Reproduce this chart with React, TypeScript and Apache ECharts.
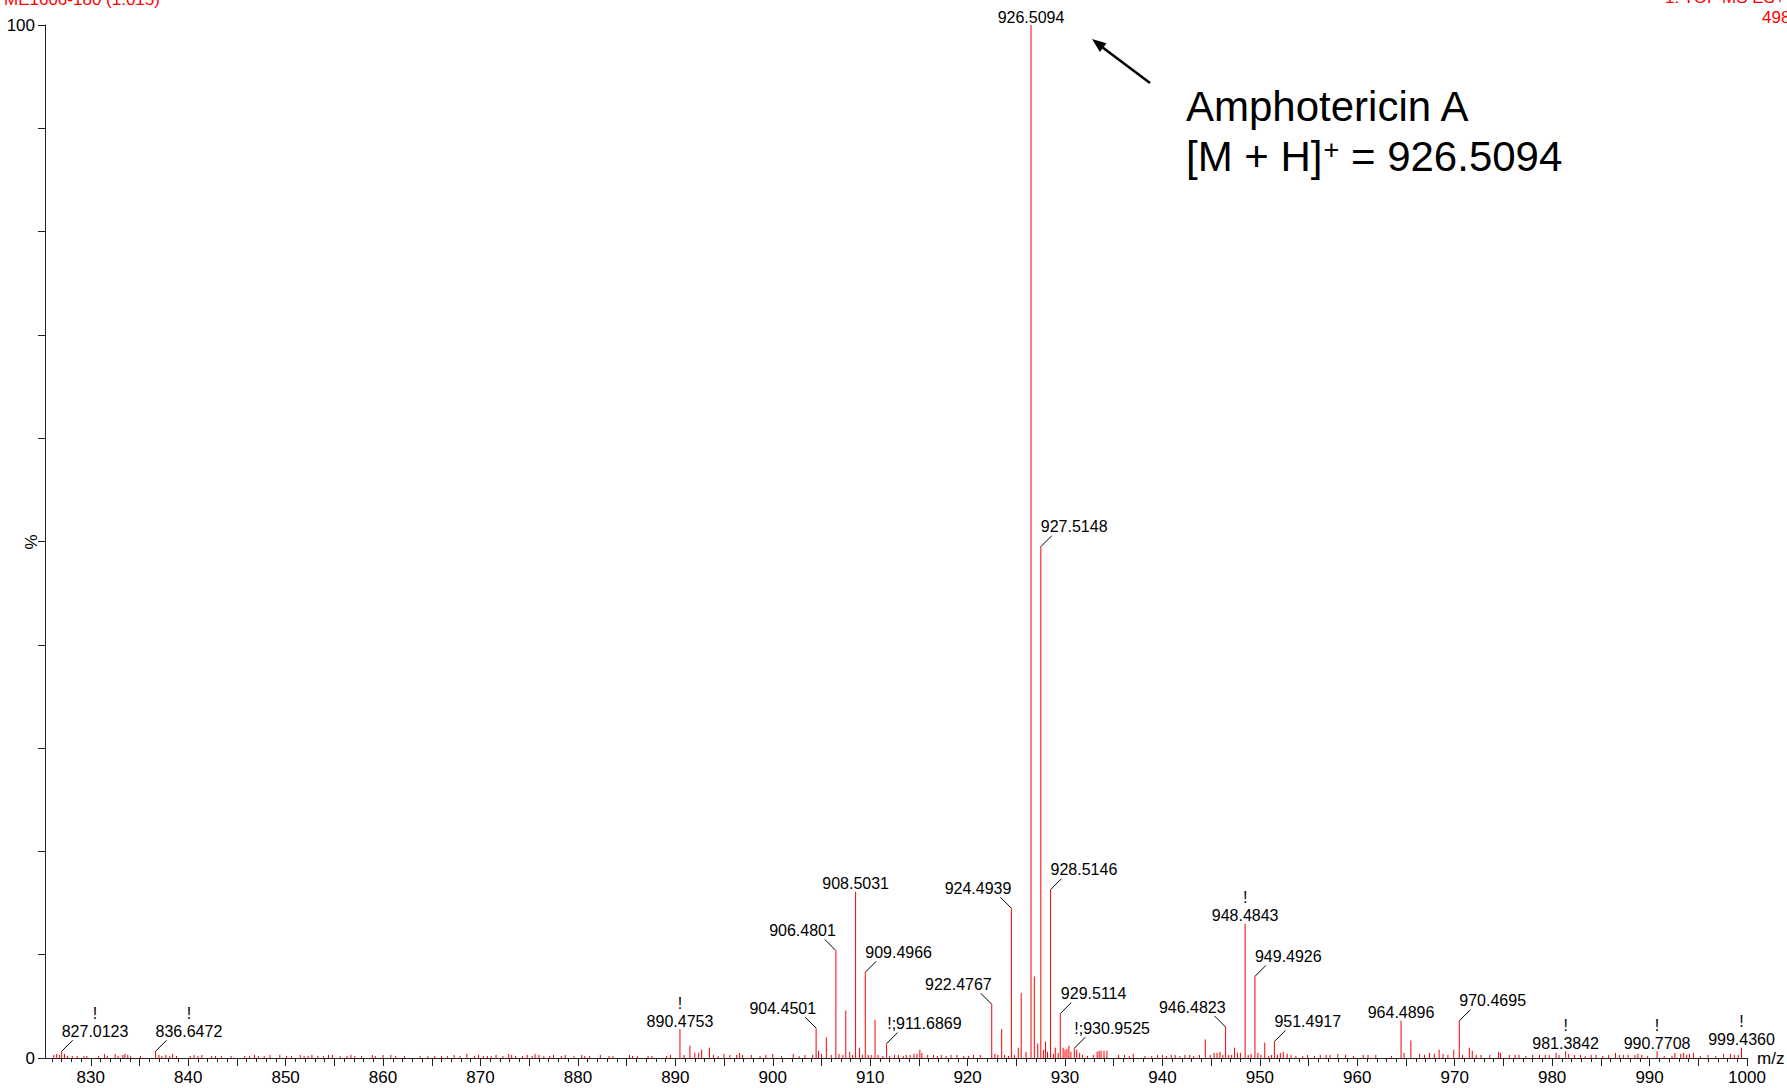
import React, { useEffect, useRef } from "react";
import * as echarts from "echarts";

const FONT = "'Liberation Sans', Arial, Helvetica, sans-serif";

// Labelled peaks (m/z, relative intensity %)
const labeledMz = [
  827.0123, 836.6472, 890.4753, 904.4501, 906.4801, 908.5031, 909.4966, 911.6869,
  922.4767, 924.4939, 926.5094, 927.5148, 928.5146, 929.5114, 930.9525, 946.4823,
  948.4843, 949.4926, 951.4917, 964.4896, 970.4695, 981.3842, 990.7708, 999.436,
];
const labeledIntensity = [
  0.65, 0.65, 2.8, 2.9, 10.4, 16.1, 8.3, 1.4,
  5.2, 14.5, 100, 49.5, 16.3, 4.3, 0.95, 3.0,
  13.0, 7.9, 1.6, 3.6, 3.6, 0.65, 0.65, 1.0,
];
const labelTexts = [
  "!\n827.0123", "!\n836.6472", "!\n890.4753", "904.4501", "906.4801", "908.5031", "909.4966", "!;911.6869",
  "922.4767", "924.4939", "926.5094", "927.5148", "928.5146", "929.5114", "!;930.9525", "946.4823",
  "!\n948.4843", "949.4926", "951.4917", "964.4896", "970.4695", "!\n981.3842", "!\n990.7708", "!\n999.4360",
];
// label placement relative to its peak
const labelSide = [
  "right", "right", "center", "left", "left", "center", "right", "right",
  "left", "left", "center", "right", "right", "right", "right", "left",
  "center", "right", "right", "center", "right", "center", "center", "center",
];

// Unlabelled peaks (m/z)
const peakMz = [
  826.2, 826.5, 826.8, 827.3, 827.6, 828.1, 828.6, 829.3, 829.6, 830.8, 831.4, 831.7, 832.5, 832.8,
  833.3, 833.5, 833.8, 834.1, 835.1, 837.0, 837.3, 837.7, 838.1, 838.4, 838.8, 840.2, 840.6, 841.0,
  841.4, 842.4, 842.8, 843.4, 844.4, 845.8, 846.3, 846.8, 847.2, 847.8, 848.4, 849.4, 850.1, 850.6,
  851.5, 851.9, 852.3, 852.7, 853.3, 853.9, 854.4, 854.8, 855.6, 856.3, 856.7, 857.1, 857.8, 858.9,
  859.2, 860.0, 860.8, 861.3, 862.2, 863.8, 864.6, 865.3, 866.0, 866.6, 867.3, 867.9, 868.6, 869.4,
  869.8, 870.3, 870.7, 871.1, 871.6, 872.3, 872.9, 873.2, 873.6, 874.3, 874.8, 875.3, 875.6, 876.0,
  876.5, 877.1, 877.5, 878.3, 878.7, 879.6, 880.4, 880.7, 881.2, 882.3, 883.2, 883.6, 885.3, 885.6,
  886.1, 887.2, 887.6, 889.1, 889.5, 890.9, 891.5, 892.0, 892.4, 892.7, 893.5, 893.9, 894.4, 895.0,
  895.6, 896.3, 896.6, 896.9, 897.8, 898.7, 899.3, 900.0, 900.9, 902.1, 902.7, 903.3, 904.1, 904.7,
  905.0, 905.5, 906.0, 906.8, 907.2, 907.5, 907.9, 908.2, 908.9, 909.2, 909.8, 910.1, 910.5, 910.8,
  911.3, 912.0, 912.5, 912.9, 913.4, 913.7, 914.1, 914.5, 914.8, 915.1, 915.3, 915.9, 916.5, 916.9,
  917.3, 917.8, 918.3, 918.9, 919.6, 920.1, 920.6, 921.3, 922.8, 923.1, 923.5, 923.8, 924.2, 924.8,
  925.2, 925.5, 926.0, 926.85, 927.2, 927.8, 928.0, 928.2, 928.8, 929.0, 929.3, 929.8, 930.0, 930.2,
  930.4, 930.6, 931.2, 931.5, 931.8, 932.3, 932.9, 933.3, 933.5, 933.7, 934.0, 934.3, 935.5, 936.1,
  936.6, 937.0, 938.2, 938.9, 939.5, 940.0, 940.4, 940.9, 941.3, 941.8, 942.3, 942.8, 943.2, 943.8,
  944.4, 944.9, 945.3, 945.6, 945.9, 946.2, 946.8, 947.1, 947.4, 947.7, 948.0, 948.8, 949.1, 949.8,
  950.1, 950.5, 950.9, 951.2, 951.8, 952.1, 952.4, 952.8, 953.2, 953.7, 954.4, 954.9, 955.6, 956.2,
  956.8, 957.2, 958.0, 958.8, 959.6, 960.6, 961.1, 961.9, 963.5, 964.8, 965.5, 966.4, 966.9, 967.4,
  967.9, 968.4, 968.8, 969.3, 969.9, 970.8, 971.5, 971.8, 972.2, 972.7, 973.6, 974.5, 974.7, 975.6,
  976.2, 976.6, 977.3, 978.0, 978.7, 979.3, 979.7, 980.4, 980.7, 981.7, 982.3, 982.9, 983.4, 984.0,
  984.5, 985.2, 985.8, 986.5, 986.9, 987.3, 987.8, 988.5, 988.8, 989.2, 989.8, 991.5, 992.3, 992.6,
  993.2, 993.5, 993.8, 994.1, 994.5, 995.2, 996.0, 996.8, 997.6, 998.3, 998.7, 999.1,
];
const peakIntensity = [
  0.3, 0.4, 0.3, 0.4, 0.2, 0.2, 0.2, 0.2, 0.2, 0.2, 0.4, 0.2, 0.4, 0.2,
  0.3, 0.4, 0.3, 0.2, 0.2, 0.3, 0.2, 0.3, 0.2, 0.4, 0.2, 0.2, 0.3, 0.2,
  0.3, 0.2, 0.2, 0.2, 0.2, 0.2, 0.2, 0.3, 0.2, 0.2, 0.3, 0.3, 0.2, 0.2,
  0.3, 0.2, 0.2, 0.3, 0.2, 0.2, 0.3, 0.3, 0.2, 0.2, 0.3, 0.2, 0.2, 0.3,
  0.2, 0.3, 0.3, 0.2, 0.2, 0.2, 0.2, 0.2, 0.2, 0.2, 0.3, 0.2, 0.4, 0.2,
  0.3, 0.2, 0.2, 0.2, 0.3, 0.2, 0.4, 0.3, 0.2, 0.2, 0.3, 0.2, 0.4, 0.3,
  0.2, 0.2, 0.3, 0.2, 0.3, 0.2, 0.3, 0.2, 0.2, 0.3, 0.2, 0.2, 0.3, 0.2,
  0.2, 0.2, 0.2, 0.2, 0.3, 0.3, 1.2, 0.5, 0.5, 0.8, 1.0, 0.3, 0.2, 0.4,
  0.3, 0.3, 0.5, 0.3, 0.3, 0.2, 0.3, 0.4, 0.2, 0.4, 0.2, 0.3, 0.3, 0.7,
  0.4, 2.0, 0.3, 0.4, 0.3, 4.6, 0.6, 0.3, 1.0, 0.3, 0.3, 0.3, 3.7, 0.3,
  0.2, 0.2, 0.3, 0.3, 0.2, 0.3, 0.3, 0.4, 0.4, 0.8, 0.5, 0.3, 0.3, 0.2,
  0.3, 0.2, 0.3, 0.3, 0.2, 0.2, 0.3, 0.3, 0.4, 0.3, 2.8, 0.3, 0.2, 0.3,
  1.0, 6.3, 0.6, 7.9, 1.4, 0.8, 1.6, 0.6, 0.4, 1.0, 0.5, 1.0, 0.8, 0.9,
  1.2, 0.6, 0.8, 0.5, 0.3, 0.2, 0.3, 0.6, 0.7, 0.7, 0.7, 0.7, 0.3, 0.3,
  0.2, 0.4, 0.2, 0.2, 0.3, 0.3, 0.2, 0.3, 0.3, 0.2, 0.3, 0.3, 0.2, 0.3,
  1.8, 0.3, 0.5, 0.5, 0.6, 0.3, 0.3, 0.3, 1.0, 0.5, 0.5, 0.3, 0.4, 0.5,
  0.3, 1.5, 0.2, 0.3, 0.3, 0.5, 0.6, 0.4, 0.3, 0.2, 0.2, 0.3, 0.2, 0.3,
  0.3, 0.3, 0.4, 0.3, 0.2, 0.3, 0.3, 0.3, 0.2, 0.5, 1.7, 0.4, 0.3, 0.5,
  0.4, 0.8, 0.4, 0.3, 0.8, 0.3, 1.0, 0.7, 0.3, 0.3, 0.3, 0.6, 0.5, 0.3,
  0.3, 0.3, 0.2, 0.3, 0.3, 0.3, 0.3, 0.5, 0.3, 0.4, 0.3, 0.3, 0.2, 0.3,
  0.3, 0.2, 0.3, 0.5, 0.3, 0.3, 0.3, 0.3, 0.4, 0.3, 0.2, 0.2, 0.2, 0.5,
  0.4, 0.5, 0.3, 0.4, 0.5, 0.2, 0.3, 0.2, 0.4, 0.4, 0.3, 0.3,
];

// Axis ticks / labels
const xLabelValues = [830, 840, 850, 860, 870, 880, 890, 900, 910, 920, 930, 940, 950, 960, 970, 980, 990, 1000];
const xMajorTickValues = [
  830, 835, 840, 845, 850, 855, 860, 865, 870, 875, 880, 885, 890, 895, 900, 905, 910, 915,
  920, 925, 930, 935, 940, 945, 950, 955, 960, 965, 970, 975, 980, 985, 990, 995, 1000,
];
const yLabelValues = [0, 100];

function textWidth(s: string, fs: number) {
  let w = 0;
  for (const ch of s) w += ch >= "0" && ch <= "9" ? 0.556 : 0.278;
  return w * fs;
}

export default function App() {
  const ref = useRef<HTMLDivElement>(null);

  useEffect(() => {
    if (!ref.current) return;
    const chart = echarts.init(ref.current, undefined, { renderer: "svg" });

    const minorTicks: number[] = [];
    for (let v = 826; v <= 1000; v++) minorTicks.push(v);

    const peakData = peakMz.map((m, i) => [m, peakIntensity[i]]).concat(
      labeledMz.map((m, i) => [m, labeledIntensity[i]])
    );
    const labelData = labeledMz.map((m, i) => [m, labeledIntensity[i], i]);

    const axisColor = "#222";

    const option: any = {
      animation: false,
      backgroundColor: "#ffffff",
      textStyle: { fontFamily: FONT },
      grid: { left: 45, right: 40, top: 25, bottom: 30, containLabel: false, outerBoundsMode: "none" },
      xAxis: [
        {
          type: "value",
          min: 825.3,
          max: 1000,
          position: "bottom",
          axisLine: { show: true, lineStyle: { color: axisColor, width: 1 } },
          axisTick: {
            show: true,
            length: 8,
            customValues: xMajorTickValues,
            lineStyle: { color: axisColor, width: 1 },
          },
          axisLabel: {
            show: true,
            customValues: xLabelValues,
            fontSize: 17,
            color: "#000",
            margin: 11,
            fontFamily: FONT,
            formatter: (v: number) => String(v),
          },
          splitLine: { show: false },
          name: "m/z",
          nameLocation: "end",
          nameGap: 10,
          nameTextStyle: { fontSize: 17, color: "#000", fontFamily: FONT, verticalAlign: "middle", padding: [6, 0, 0, 0] },
        },
        {
          type: "value",
          min: 825.3,
          max: 1000,
          position: "bottom",
          offset: 0,
          axisLine: { show: false },
          axisTick: {
            show: true,
            length: 4,
            customValues: minorTicks,
            lineStyle: { color: axisColor, width: 1 },
          },
          axisLabel: { show: false },
          splitLine: { show: false },
        },
      ],
      yAxis: {
        type: "value",
        min: 0,
        max: 100,
        interval: 10,
        axisLine: { show: true, lineStyle: { color: axisColor, width: 1 } },
        axisTick: { show: true, length: 7, lineStyle: { color: axisColor, width: 1 } },
        axisLabel: {
          fontSize: 17,
          color: "#000",
          margin: 10,
          fontFamily: FONT,
          formatter: (v: number) => (yLabelValues.indexOf(v) >= 0 ? String(v) : ""),
        },
        splitLine: { show: false },
      },
      series: [
        {
          type: "custom",
          name: "peaks",
          xAxisIndex: 0,
          yAxisIndex: 0,
          silent: true,
          clip: false,
          data: peakData,
          renderItem: (params: any, api: any) => {
            const base = api.coord([api.value(0), 0]);
            const top = api.coord([api.value(0), api.value(1)]);
            return {
              type: "line",
              shape: { x1: base[0], y1: base[1], x2: top[0], y2: top[1] },
              style: { stroke: "#ff0000", lineWidth: 1 },
            };
          },
          z: 2,
        },
        {
          type: "custom",
          name: "labels",
          xAxisIndex: 0,
          yAxisIndex: 0,
          silent: true,
          clip: false,
          data: labelData,
          renderItem: (params: any, api: any) => {
            const idx = api.value(2);
            const pt = api.coord([api.value(0), api.value(1)]);
            const px = pt[0];
            const top = pt[1];
            const side = labelSide[idx];
            const text = labelTexts[idx];
            const lines = text.split("\n");
            const W = Math.max(...lines.map((l) => textWidth(l, 16)));
            const children: any[] = [];
            let bottomY: number;
            let cx: number;
            if (side === "center") {
              bottomY = top + 1;
              cx = px;
            } else {
              const dir = side === "right" ? 1 : -1;
              children.push({
                type: "line",
                shape: { x1: px, y1: top, x2: px + dir * 11, y2: top - 11 },
                style: { stroke: "#000", lineWidth: 1 },
              });
              bottomY = top - 11;
              cx = px + (dir * W) / 2;
            }
            children.push({
              type: "text",
              x: cx,
              y: bottomY,
              style: {
                text,
                fill: "#000",
                fontSize: 16,
                fontFamily: FONT,
                align: "center",
                verticalAlign: "bottom",
                lineHeight: 18,
              },
            });
            return { type: "group", children };
          },
          z: 3,
        },
      ],
      graphic: [
        {
          type: "text",
          x: 31,
          y: 542,
          rotation: Math.PI / 2,
          style: { text: "%", fill: "#000", fontSize: 17, fontFamily: FONT, align: "center", verticalAlign: "middle" },
        },
        {
          type: "text",
          x: 4,
          y: -1,
          style: { text: "ME1606-180 (1.015)", fill: "#ff0000", fontSize: 17, fontFamily: FONT, verticalAlign: "middle" },
        },
        {
          type: "text",
          x: 1665,
          y: -3,
          style: { text: "1: TOF MS ES+", fill: "#ff0000", fontSize: 17, fontFamily: FONT, verticalAlign: "middle" },
        },
        {
          type: "text",
          x: 1762,
          y: 17,
          style: { text: "498", fill: "#ff0000", fontSize: 17, fontFamily: FONT, verticalAlign: "middle" },
        },
        {
          type: "line",
          shape: { x1: 1150, y1: 83, x2: 1102, y2: 47 },
          style: { stroke: "#000", lineWidth: 2.5 },
        },
        {
          type: "polygon",
          shape: { points: [[1092, 39], [1106.5, 43.2], [1099.9, 52.0]] },
          style: { fill: "#000" },
        },
        {
          type: "text",
          x: 1186,
          y: 106,
          style: { text: "Amphotericin A", fill: "#000", fontSize: 42, fontFamily: FONT, verticalAlign: "middle" },
        },
        {
          type: "text",
          x: 1186,
          y: 156,
          style: {
            text: "{a|[M + H]}{b|+}{a| = 926.5094}",
            verticalAlign: "middle",
            rich: {
              a: { fontSize: 42, lineHeight: 42, fontFamily: FONT, fill: "#000" },
              b: { fontSize: 27, fontFamily: FONT, fill: "#000", verticalAlign: "top", padding: [1, 0, 0, 1] },
            },
          },
        },
      ],
    };

    chart.setOption(option);
    return () => chart.dispose();
  }, []);

  return (
    <div
      ref={ref}
      style={{ position: "fixed", left: 0, top: 0, width: 1787, height: 1088, background: "#fff" }}
    />
  );
}
